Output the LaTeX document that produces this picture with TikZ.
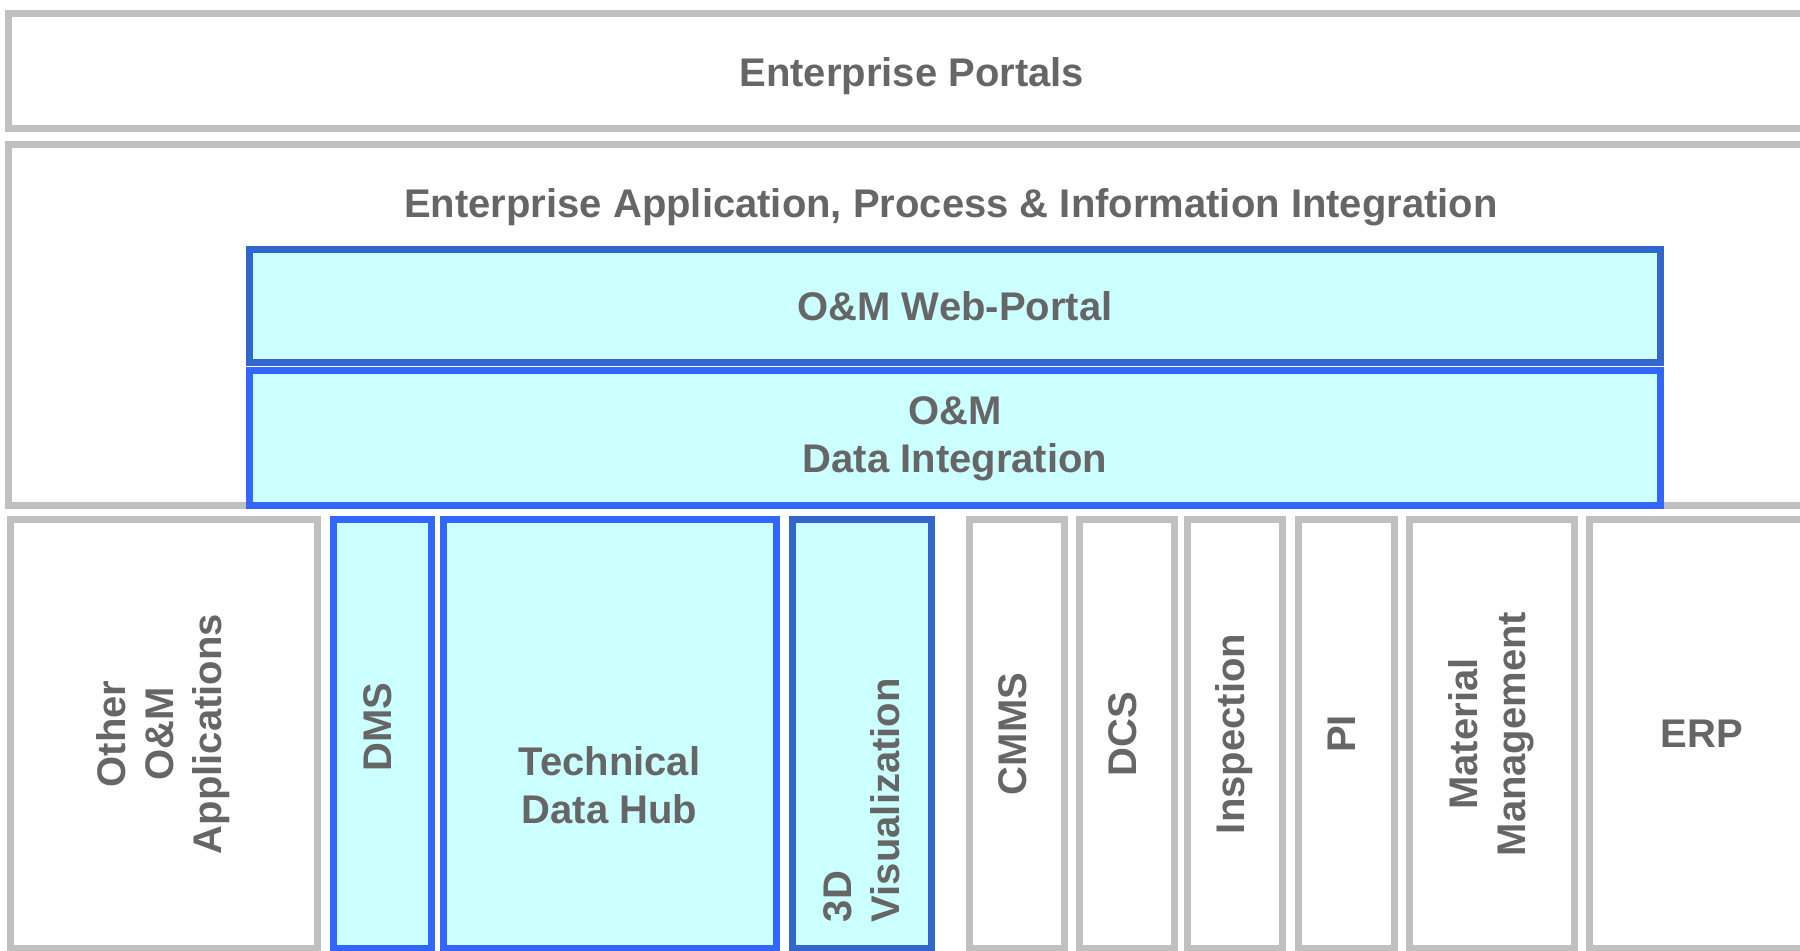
\documentclass[tikz,border=0pt]{standalone}
\usepackage{fontspec}
\setmainfont{Liberation Sans}
\usepackage{tikz}
\usetikzlibrary{positioning}
\definecolor{boxgray}{RGB}{192, 192, 192}
\definecolor{textgray}{RGB}{102, 102, 102}
\definecolor{hubblue}{RGB}{51, 102, 255}
\definecolor{darkblue}{RGB}{51, 102, 204}
\definecolor{hubcyan}{RGB}{204, 255, 255}
\newcommand{\uptext}[1]{\rotatebox{90}{\begin{tabular}{@{}c@{}}#1\end{tabular}}}

\begin{document}
\begin{tikzpicture}[x=0.25pt, y=-0.25pt, every node/.style={font=\fontsize{10}{12}\selectfont\bfseries, text=textgray, outer sep=0pt}, align=center,
    grayblock/.style={rectangle, draw=boxgray, line width=1.75pt, fill=white},
    cyanblock/.style={rectangle, draw=hubblue, line width=1.75pt, fill=hubcyan},
    darkblock/.style={cyanblock, draw=darkblue},
    appcol/.style={minimum height=107.25pt}]
        \useasboundingbox[fill=white] (0,0) rectangle (1800,951);
        \clip (0,0) rectangle (1800,951);
        % upper layers
        \node (portals) [grayblock, minimum width=451.625pt, minimum height=28.75pt, text height=9.6pt] at (911.75,71) {Enterprise Portals};
        \node (eai) [grayblock, minimum width=451.625pt, minimum height=90.375pt] at (911.75,325.25) {};
        \node (eaititle) [anchor=base] at (951,218) {Enterprise Application, Process \& Information Integration};
        \node (webportal) [darkblock, minimum width=352.75pt, minimum height=28.25pt] at (955,306) {O\&M Web-Portal};
        \node (dataint) [cyanblock, minimum width=352.75pt, minimum height=33.75pt] at (955,438.5) {O\&M\\Data Integration};
        % application columns
        \node (other) [grayblock, appcol, anchor=north west, minimum width=76.625pt] at (10.5,519.5) {\uptext{Other\\O\&M\\Applications}};
        \node (dms) [cyanblock, appcol, right=4pt of other, minimum width=24.5pt] {\uptext{\hspace*{3.5pt}DMS}};
        \node (tdh) [cyanblock, appcol, right=3pt of dms, minimum width=83.25pt] {};
        \node (tdhlabel) at ([yshift=-12.75pt]tdh.center) {Technical\\Data Hub};
        \node (vis) [darkblock, appcol, right=4pt of tdh, minimum width=34.75pt] {};
        \node (vislabel) [rotate=90, anchor=west, align=left, inner sep=0pt] at ([yshift=6.6pt]vis.south) {3D\\Visualization};
        \node (cmms) [grayblock, appcol, right=9.5pt of vis, minimum width=23.75pt] {\uptext{CMMS}};
        \node (dcs) [grayblock, appcol, right=3.75pt of cmms, minimum width=23.75pt] {\uptext{DCS}};
        \node (insp) [grayblock, appcol, right=3.25pt of dcs, minimum width=23.75pt] {\uptext{Inspection}};
        \node (pi) [grayblock, appcol, right=4.125pt of insp, minimum width=23.875pt] {\uptext{PI}};
        \node (matmgmt) [grayblock, appcol, right=3.875pt of pi, minimum width=41.125pt] {\uptext{Material\\Management}};
        \node (erp) [grayblock, appcol, right=3.75pt of matmgmt, minimum width=56.5pt] {ERP};
    \end{tikzpicture}
\end{document}
